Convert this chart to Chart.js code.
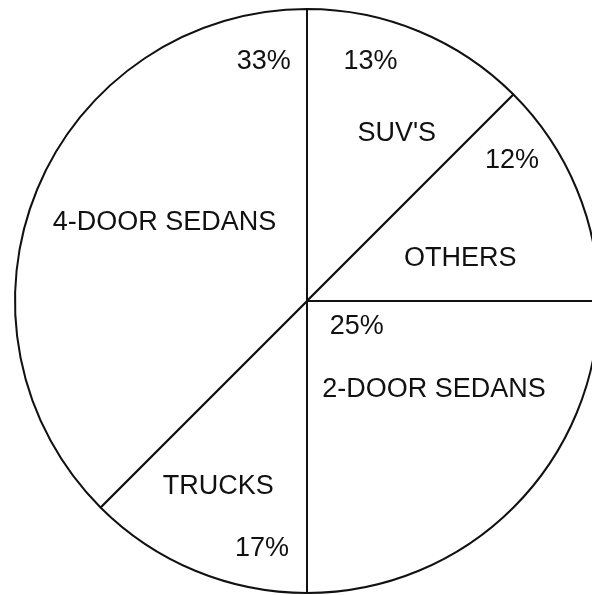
<!DOCTYPE html>
<html>
<head>
<meta charset="utf-8">
<style>
  html, body { margin: 0; padding: 0; background: #fff; overflow: hidden; width: 592px; height: 595px; }
  #wrap { position: absolute; left: 0; top: 0; width: 614px; height: 602px; }
</style>
<script src="https://cdn.jsdelivr.net/npm/chart.js@4/dist/chart.umd.min.js"></script>
</head>
<body>
<div id="wrap"><canvas id="c" width="614" height="602"></canvas></div>
<script>
// Categories, clockwise from 12 o'clock
const categories = ["SUV'S", "OTHERS", "2-DOOR SEDANS", "TRUCKS", "4-DOOR SEDANS"];
// Slice shares as drawn in the picture (angles of the dividing lines)
const sliceValues = [12.5, 12.5, 25, 12.5, 37.5];
// Percent texts printed in the picture
const percentLabels = ["13%", "12%", "25%", "17%", "33%"];

// Label placement inside each slice: [fraction along slice angle, fraction of radius]
const namePlace = [[0.627, 0.65], [0.653, 0.545], [0.387, 0.53], [0.569, 0.703], [0.547, 0.557]];
const pctPlace  = [[0.331, 0.847], [0.236, 0.851], [0.306, 0.192], [0.229, 0.86], [0.924, 0.832]];

const labelPlugin = {
  id: 'sliceLabels',
  afterDatasetsDraw(chart) {
    const ctx = chart.ctx;
    const meta = chart.getDatasetMeta(0);
    ctx.save();
    ctx.fillStyle = '#111';
    ctx.font = '27px "Liberation Sans", Arial, sans-serif';
    ctx.textAlign = 'center';
    ctx.textBaseline = 'middle';
    meta.data.forEach((arc, i) => {
      const p = arc.getProps(['x', 'y', 'startAngle', 'endAngle', 'outerRadius'], true);
      const put = (txt, place) => {
        const a = p.startAngle + place[0] * (p.endAngle - p.startAngle);
        const r = place[1] * p.outerRadius;
        ctx.fillText(txt, p.x + r * Math.cos(a), p.y + r * Math.sin(a));
      };
      put(categories[i], namePlace[i]);
      put(percentLabels[i], pctPlace[i]);
    });
    ctx.restore();
  }
};

new Chart(document.getElementById('c'), {
  type: 'pie',
  data: {
    labels: categories,
    datasets: [{
      data: sliceValues,
      backgroundColor: '#ffffff',
      borderColor: '#111111',
      borderWidth: 2,
      borderAlign: 'center'
    }]
  },
  options: {
    responsive: false,
    animation: false,
    layout: { padding: { top: 8, bottom: 8, left: 0, right: 0 } },
    plugins: { legend: { display: false }, tooltip: { enabled: false } }
  },
  plugins: [labelPlugin]
});
</script>
</body>
</html>
